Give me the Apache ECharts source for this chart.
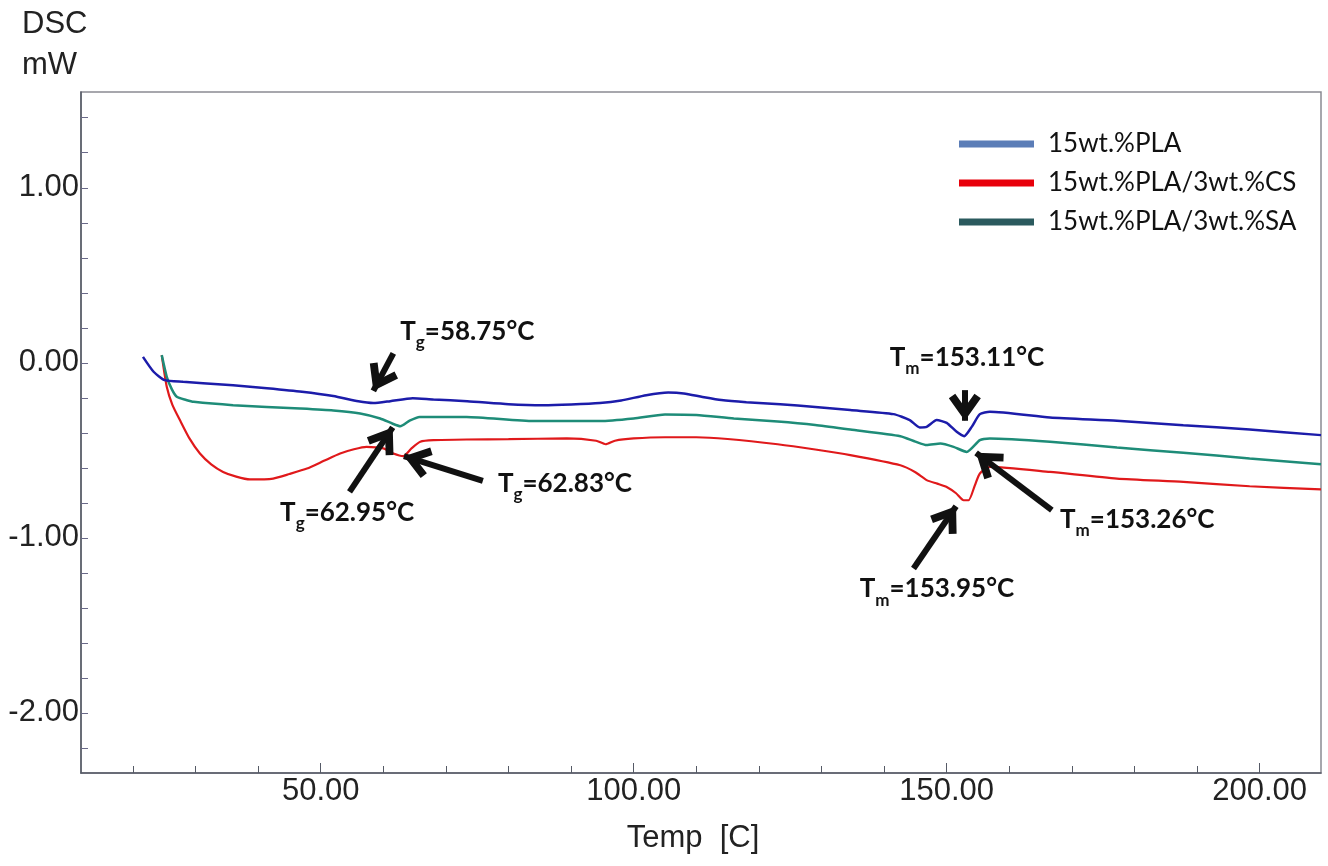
<!DOCTYPE html>
<html>
<head>
<meta charset="utf-8">
<title>DSC</title>
<script src="https://cdn.jsdelivr.net/npm/echarts@6/dist/echarts.min.js"></script>
<style>
  html, body { margin: 0; padding: 0; background: #fff; }
  #chart { width: 1328px; height: 866px; }
</style>
</head>
<body>
<div id="chart"></div>
<script>
// DSC curves, temperature in C and heat flow in mW
const plaTemp = [21.6, 23.3, 25.1, 28.0, 31.2, 36.0, 41.4, 47.0, 52.0, 56.0, 58.4, 61.1, 64.7, 68.0, 73.4, 80.0, 85.5, 90.0, 94.6, 98.0, 102.0, 105.5, 108.0, 111.0, 114.0, 118.0, 123.4, 129.0, 134.6, 141.5, 144.1, 145.7, 146.8, 148.4, 150.0, 151.6, 152.8, 154.0, 155.3, 156.9, 166.5, 177.2, 187.8, 198.4, 209.8];
const plaDsc  = [0.034, -0.051, -0.099, -0.108, -0.116, -0.128, -0.145, -0.165, -0.190, -0.220, -0.230, -0.219, -0.202, -0.210, -0.219, -0.236, -0.242, -0.238, -0.230, -0.215, -0.185, -0.170, -0.175, -0.195, -0.213, -0.225, -0.236, -0.252, -0.270, -0.293, -0.327, -0.369, -0.366, -0.327, -0.343, -0.394, -0.419, -0.366, -0.293, -0.280, -0.312, -0.331, -0.356, -0.381, -0.413];

const csTemp = [24.6, 25.4, 26.3, 27.5, 29.0, 30.7, 32.5, 34.4, 36.5, 38.7, 42.4, 45.0, 47.8, 50.5, 53.1, 55.3, 57.3, 60.0, 61.6, 63.2, 64.5, 65.9, 68.0, 73.3, 80.0, 89.3, 94.0, 95.5, 97.0, 100.0, 105.0, 110.0, 115.0, 123.0, 129.0, 134.6, 142.6, 145.0, 146.8, 148.5, 150.0, 151.5, 152.7, 153.5, 154.5, 155.3, 156.9, 166.5, 177.2, 187.8, 198.4, 209.8];
const csDsc  = [0.044, -0.137, -0.240, -0.327, -0.430, -0.518, -0.580, -0.623, -0.650, -0.666, -0.661, -0.635, -0.604, -0.560, -0.518, -0.494, -0.480, -0.489, -0.518, -0.533, -0.489, -0.451, -0.442, -0.438, -0.436, -0.432, -0.445, -0.465, -0.445, -0.432, -0.425, -0.425, -0.435, -0.465, -0.495, -0.527, -0.585, -0.625, -0.670, -0.690, -0.709, -0.745, -0.785, -0.785, -0.700, -0.632, -0.594, -0.623, -0.661, -0.680, -0.705, -0.723];

const saTemp = [24.6, 25.4, 26.2, 27.0, 28.5, 29.7, 36.0, 46.7, 52.0, 56.3, 59.5, 61.5, 62.7, 64.2, 65.8, 73.3, 84.0, 94.6, 100.0, 105.0, 110.0, 116.0, 123.0, 129.0, 134.6, 142.6, 145.0, 146.8, 149.0, 151.1, 153.2, 155.3, 156.9, 166.5, 177.2, 187.8, 198.4, 209.8];
const saDsc  = [0.044, -0.080, -0.150, -0.194, -0.212, -0.223, -0.242, -0.261, -0.272, -0.289, -0.318, -0.348, -0.362, -0.330, -0.309, -0.309, -0.333, -0.333, -0.318, -0.295, -0.298, -0.318, -0.335, -0.355, -0.381, -0.419, -0.450, -0.470, -0.461, -0.480, -0.509, -0.442, -0.432, -0.451, -0.484, -0.514, -0.546, -0.579];

const seriesNames = ['15wt.%PLA', '15wt.%PLA/3wt.%CS', '15wt.%PLA/3wt.%SA'];

// ticks
const xMajorTicks = [50, 100, 150, 200];
const xMinorTicks = [20, 30, 40, 50, 60, 70, 80, 90, 100, 110, 120, 130, 140, 150, 160, 170, 180, 190, 200];
const yMajorTicks = [-2, -1, 0, 1];
const yMinorTicks = [-2.2, -2, -1.8, -1.6, -1.4, -1.2, -1, -0.8, -0.6, -0.4, -0.2, 0, 0.2, 0.4, 0.6, 0.8, 1, 1.2, 1.4];

// annotation arrows: tail -> tip, in data units
const arrowTail = [[61.6, 0.054], [54.6, -0.737], [75.9, -0.674], [152.9, -0.156], [166.8, -0.842], [144.7, -1.175]];
const arrowTip  = [[58.4, -0.160], [61.5, -0.369], [63.3, -0.533], [152.9, -0.331], [154.7, -0.514], [151.5, -0.819]];
// annotation texts: top-left corner, subscript, value
const notePos  = [[62.7, 0.255], [43.5, -0.779], [78.3, -0.614], [140.9, 0.106], [168.1, -0.820], [136.1, -1.218]];
const noteSub  = ['g', 'g', 'g', 'm', 'm', 'm'];
const noteText = ['=58.75°C', '=62.95°C', '=62.83°C', '=153.11°C', '=153.26°C', '=153.95°C'];

function zip(a, b) { return a.map((v, i) => [v, b[i]]); }

const chart = echarts.init(document.getElementById('chart'));

const axisFont = 'Liberation Sans, Arial, sans-serif';
// chevron head, apex sits on the centre of the box so it lands on the line end
const chevron = 'path://M5 0 L5.01 0 M5 9 L10 16.5 L8 18 L5 13.5 L2 18 L0 16.5 Z';

const option = {
    animation: false,
    backgroundColor: '#ffffff',
    title: {
        text: 'DSC\nmW',
        left: 22,
        top: 4,
        padding: 0,
        textStyle: { fontFamily: axisFont, fontSize: 31, fontWeight: 'normal', lineHeight: 41, color: '#222' }
    },
    legend: {
        orient: 'vertical',
        left: 954,
        top: 124,
        icon: 'rect',
        itemWidth: 75,
        itemHeight: 7,
        itemGap: 9,
        textStyle: { fontFamily: 'Lato', fontSize: 26, color: '#111', lineHeight: 30, padding: [0, 0, 0, 9] },
        data: [
            { name: seriesNames[0], itemStyle: { color: '#5b7db7' } },
            { name: seriesNames[1], itemStyle: { color: '#e8000b' } },
            { name: seriesNames[2], itemStyle: { color: '#2b5a5e' } }
        ]
    },
    grid: {
        left: 81, right: 7, top: 92, bottom: 93,
        show: true,
        borderColor: '#8a8a92',
        borderWidth: 1.5
    },
    xAxis: [{
        type: 'value',
        min: 11.7,
        max: 209.8,
        name: 'Temp  [C]',
        nameLocation: 'middle',
        nameGap: 50,
        nameTextStyle: { fontFamily: axisFont, fontSize: 31, color: '#222', padding: [0, 16, 0, 0] },
        axisLine: { onZero: false, lineStyle: { color: '#555a66', width: 1.5 } },
        axisTick: { inside: true, length: 7, customValues: xMinorTicks, lineStyle: { color: '#555a66' } },
        axisLabel: {
            customValues: xMajorTicks,
            margin: 3,
            fontFamily: axisFont, fontSize: 31, color: '#222',
            formatter: v => v.toFixed(2)
        },
        splitLine: { show: false }
    }, {
        type: 'value',
        min: 11.7,
        max: 209.8,
        position: 'bottom',
        axisLine: { show: false, onZero: false },
        axisTick: { inside: true, length: 10, customValues: xMajorTicks, lineStyle: { color: '#555a66' } },
        axisLabel: { show: false },
        splitLine: { show: false }
    }],
    yAxis: [{
        type: 'value',
        min: -2.343,
        max: 1.547,
        axisLine: { show: true, onZero: false, lineStyle: { color: '#555a66', width: 1.5 } },
        axisTick: { show: true, inside: true, length: 7, customValues: yMinorTicks, lineStyle: { color: '#6a6a88' } },
        axisLabel: {
            customValues: yMajorTicks,
            margin: 2,
            fontFamily: axisFont, fontSize: 31, color: '#222',
            formatter: v => v.toFixed(2)
        },
        splitLine: { show: false }
    }],
    series: [{
        name: seriesNames[0],
        type: 'line',
        data: zip(plaTemp, plaDsc),
        symbol: 'none',
        smooth: 0.2,
        lineStyle: { color: '#1c1caa', width: 2.5 },
        itemStyle: { color: '#1c1caa' },
        z: 3,
        markLine: {
            silent: true,
            symbol: ['none', chevron],
            symbolSize: [32, 54],
            label: { show: false },
            lineStyle: { color: '#111', width: 6, type: 'solid' },
            data: arrowTail.map((t, i) => [{ coord: t }, { coord: arrowTip[i] }])
        },
        markPoint: {
            silent: true,
            symbol: 'circle',
            symbolSize: 0,
            label: {
                show: true,
                position: [0, 0],
                align: 'left',
                verticalAlign: 'top',
                rich: {
                    t: { fontFamily: 'Lato', fontSize: 26, fontWeight: 'bold', color: '#111', lineHeight: 33, verticalAlign: 'top' },
                    s: { fontFamily: 'Lato', fontSize: 17, fontWeight: 'bold', color: '#111', lineHeight: 33, verticalAlign: 'bottom' }
                }
            },
            data: notePos.map((p, i) => ({
                coord: p,
                label: { formatter: '{t|T}{s|' + noteSub[i] + '}{t|' + noteText[i] + '}' }
            }))
        }
    }, {
        name: seriesNames[1],
        type: 'line',
        data: zip(csTemp, csDsc),
        symbol: 'none',
        smooth: 0.2,
        lineStyle: { color: '#e0191b', width: 2.2 },
        itemStyle: { color: '#e0191b' },
        z: 2
    }, {
        name: seriesNames[2],
        type: 'line',
        data: zip(saTemp, saDsc),
        symbol: 'none',
        smooth: 0.2,
        lineStyle: { color: '#1e8c78', width: 2.5 },
        itemStyle: { color: '#1e8c78' },
        z: 2
    }]
};

chart.setOption(option);

window.addEventListener('resize', function () {
    chart.resize();
});
</script>
</body>
</html>
